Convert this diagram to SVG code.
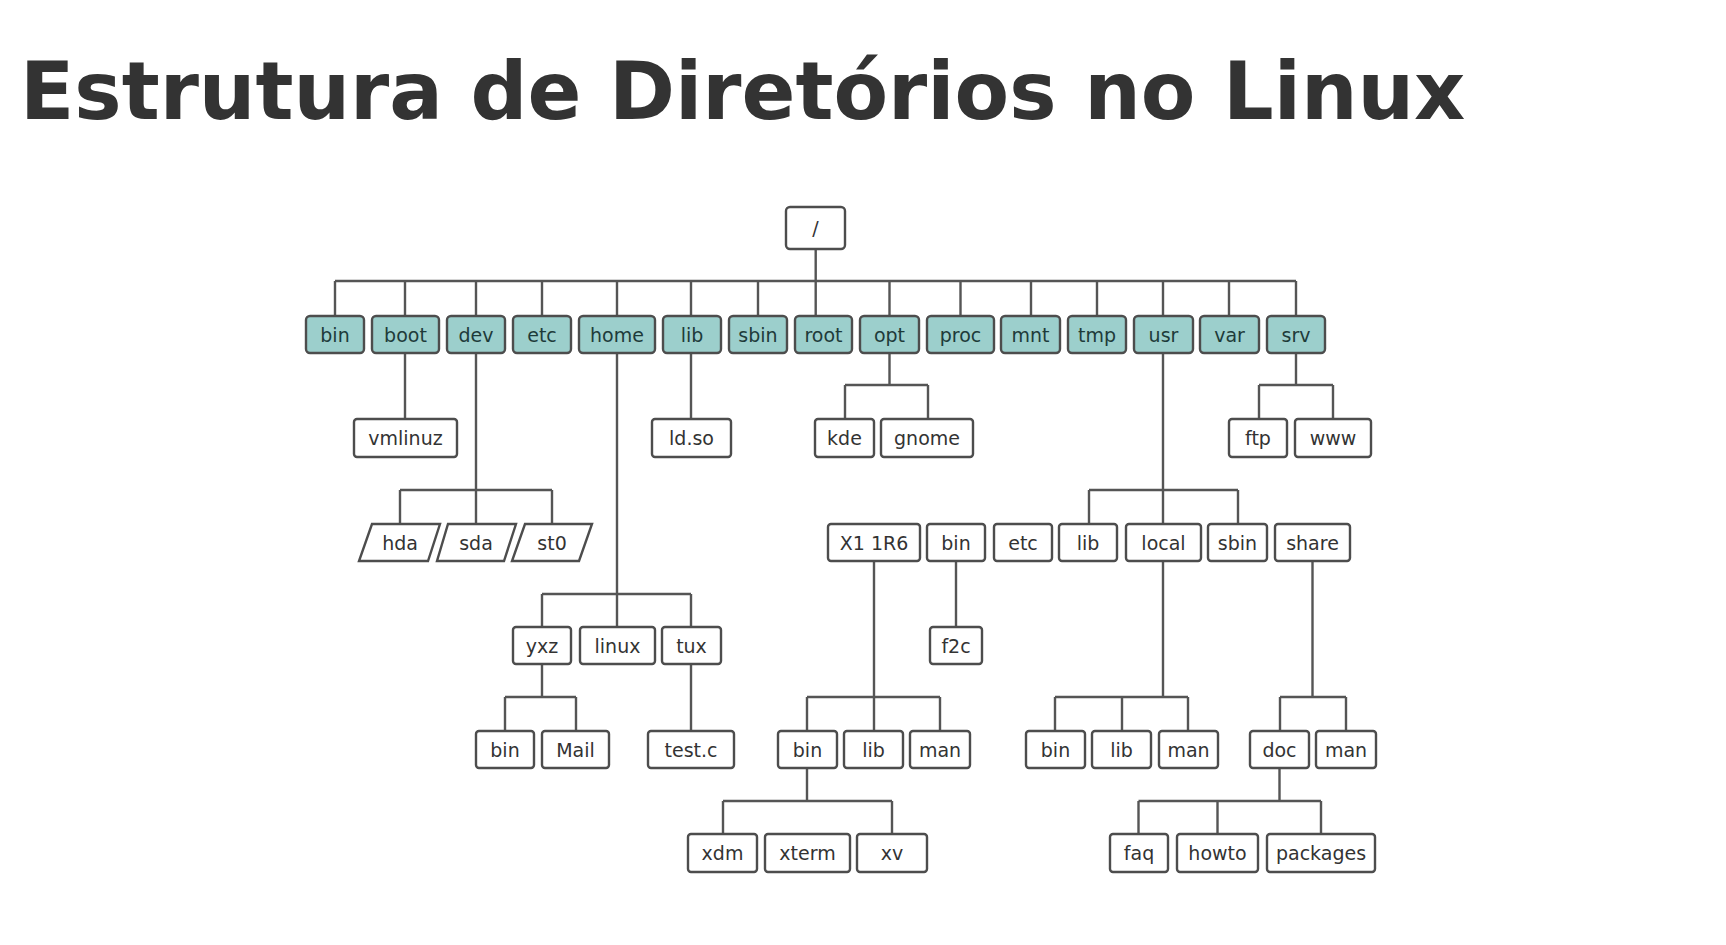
<svg xmlns="http://www.w3.org/2000/svg" width="1726" height="945" viewBox="0 0 1726 945">
<style>
.t{font-family:"DejaVu Sans","Liberation Sans",sans-serif;font-size:19px;text-anchor:middle;fill:#333}
.b{fill:#fff;stroke:#4d4d4d;stroke-width:2.4}
.c{fill:#9ccfcc;stroke:#4d4d4d;stroke-width:2.4}
.ct{font-family:"DejaVu Sans","Liberation Sans",sans-serif;font-size:19px;text-anchor:middle;fill:#1e3b3a}
.l{fill:none;stroke:#555;stroke-width:2.4}
</style>
<rect width="1726" height="945" fill="#fff"/>
<text x="20" y="119" font-family="DejaVu Sans, Liberation Sans, sans-serif" font-weight="bold" font-size="79.5" fill="#333">Estrutura de Diretórios no Linux</text>
<g id="connectors" class="l">
<path d="M815.7 249V316M335 281H1296M335 281V316M405 281V316M476 281V316M542 281V316M617 281V316M691 281V316M758 281V316M889.5 281V316M960.5 281V316M1031 281V316M1097 281V316M1163 281V316M1229 281V316M1296 281V316"/>
<path d="M405 353V419M691 353V419"/>
<path d="M476 353V524M400 490H552M400 490V524M552 490V524"/>
<path d="M617 353V627M542 594H691M542 594V627M691 594V627"/>
<path d="M889.5 353V385M845 385H928M845 385V419M928 385V419"/>
<path d="M1296 353V385M1259 385H1333M1259 385V419M1333 385V419"/>
<path d="M1163 353V524M1089 490H1238M1089 490V524M1238 490V524"/>
<path d="M874 561V731M807 697H940M807 697V731M940 697V731"/>
<path d="M956 561V627"/>
<path d="M542 664V697M505 697H576M505 697V731M576 697V731"/>
<path d="M691 664V731"/>
<path d="M1163 561V697M1055 697H1188M1055 697V731M1122 697V731M1188 697V731"/>
<path d="M1312.5 561V697M1280 697H1346M1280 697V731M1346 697V731"/>
<path d="M807 768V801M723 801H892M723 801V834M892 801V834"/>
<path d="M1279.5 768V801M1138.5 801H1321M1138.5 801V834M1217.5 801V834M1321 801V834"/>
</g>
<g id="n-root"><rect class="b" x="786" y="207" width="59" height="42" rx="4"/><text class="t" x="815.5" y="235">/</text></g>
<g id="n-bin"><rect class="c" x="306" y="316" width="58" height="37" rx="4"/><text class="ct" x="335" y="341.5">bin</text></g>
<g id="n-boot"><rect class="c" x="372" y="316" width="67" height="37" rx="4"/><text class="ct" x="405.5" y="341.5">boot</text></g>
<g id="n-dev"><rect class="c" x="447" y="316" width="58" height="37" rx="4"/><text class="ct" x="476" y="341.5">dev</text></g>
<g id="n-etc"><rect class="c" x="513" y="316" width="58" height="37" rx="4"/><text class="ct" x="542" y="341.5">etc</text></g>
<g id="n-home"><rect class="c" x="579" y="316" width="76" height="37" rx="4"/><text class="ct" x="617" y="341.5">home</text></g>
<g id="n-lib"><rect class="c" x="663" y="316" width="58" height="37" rx="4"/><text class="ct" x="692" y="341.5">lib</text></g>
<g id="n-sbin"><rect class="c" x="729" y="316" width="58" height="37" rx="4"/><text class="ct" x="758" y="341.5">sbin</text></g>
<g id="n-rootdir"><rect class="c" x="795" y="316" width="57" height="37" rx="4"/><text class="ct" x="823.5" y="341.5">root</text></g>
<g id="n-opt"><rect class="c" x="860" y="316" width="59" height="37" rx="4"/><text class="ct" x="889.5" y="341.5">opt</text></g>
<g id="n-proc"><rect class="c" x="927" y="316" width="67" height="37" rx="4"/><text class="ct" x="960.5" y="341.5">proc</text></g>
<g id="n-mnt"><rect class="c" x="1001" y="316" width="59" height="37" rx="4"/><text class="ct" x="1030.5" y="341.5">mnt</text></g>
<g id="n-tmp"><rect class="c" x="1068" y="316" width="58" height="37" rx="4"/><text class="ct" x="1097" y="341.5">tmp</text></g>
<g id="n-usr"><rect class="c" x="1134" y="316" width="59" height="37" rx="4"/><text class="ct" x="1163.5" y="341.5">usr</text></g>
<g id="n-var"><rect class="c" x="1200" y="316" width="59" height="37" rx="4"/><text class="ct" x="1229.5" y="341.5">var</text></g>
<g id="n-srv"><rect class="c" x="1267" y="316" width="58" height="37" rx="4"/><text class="ct" x="1296" y="341.5">srv</text></g>
<g id="n-vmlinuz"><rect class="b" x="354" y="419" width="103" height="38" rx="3"/><text class="t" x="405.5" y="445">vmlinuz</text></g>
<g id="n-ldso"><rect class="b" x="652" y="419" width="79" height="38" rx="3"/><text class="t" x="691.5" y="445">ld.so</text></g>
<g id="n-kde"><rect class="b" x="815" y="419" width="59" height="38" rx="3"/><text class="t" x="844.5" y="445">kde</text></g>
<g id="n-gnome"><rect class="b" x="881" y="419" width="92" height="38" rx="3"/><text class="t" x="927" y="445">gnome</text></g>
<g id="n-ftp"><rect class="b" x="1229" y="419" width="58" height="38" rx="3"/><text class="t" x="1258" y="445">ftp</text></g>
<g id="n-www"><rect class="b" x="1295" y="419" width="76" height="38" rx="3"/><text class="t" x="1333" y="445">www</text></g>
<g id="n-hda"><polygon class="b" points="372,524 440,524 428,561 359,561"/><text class="t" x="400" y="549.5">hda</text></g>
<g id="n-sda"><polygon class="b" points="448,524 516,524 504,561 437,561"/><text class="t" x="476" y="549.5">sda</text></g>
<g id="n-st0"><polygon class="b" points="525,524 592,524 579,561 512,561"/><text class="t" x="552" y="549.5">st0</text></g>
<g id="n-x11r6"><rect class="b" x="828" y="524" width="92" height="37" rx="3"/><text class="t" x="874" y="549.5">X1 1R6</text></g>
<g id="n-usr-bin"><rect class="b" x="927" y="524" width="58" height="37" rx="3"/><text class="t" x="956" y="549.5">bin</text></g>
<g id="n-usr-etc"><rect class="b" x="994" y="524" width="58" height="37" rx="3"/><text class="t" x="1023" y="549.5">etc</text></g>
<g id="n-usr-lib"><rect class="b" x="1059" y="524" width="58" height="37" rx="3"/><text class="t" x="1088" y="549.5">lib</text></g>
<g id="n-local"><rect class="b" x="1126" y="524" width="75" height="37" rx="3"/><text class="t" x="1163.5" y="549.5">local</text></g>
<g id="n-usr-sbin"><rect class="b" x="1208" y="524" width="59" height="37" rx="3"/><text class="t" x="1237.5" y="549.5">sbin</text></g>
<g id="n-share"><rect class="b" x="1275" y="524" width="75" height="37" rx="3"/><text class="t" x="1312.5" y="549.5">share</text></g>
<g id="n-yxz"><rect class="b" x="513" y="627" width="58" height="37" rx="3"/><text class="t" x="542" y="652.5">yxz</text></g>
<g id="n-linux"><rect class="b" x="580" y="627" width="75" height="37" rx="3"/><text class="t" x="617.5" y="652.5">linux</text></g>
<g id="n-tux"><rect class="b" x="662" y="627" width="59" height="37" rx="3"/><text class="t" x="691.5" y="652.5">tux</text></g>
<g id="n-f2c"><rect class="b" x="930" y="627" width="52" height="37" rx="3"/><text class="t" x="956" y="652.5">f2c</text></g>
<g id="n-yxz-bin"><rect class="b" x="476" y="731" width="58" height="37" rx="3"/><text class="t" x="505" y="756.5">bin</text></g>
<g id="n-mail"><rect class="b" x="542" y="731" width="67" height="37" rx="3"/><text class="t" x="575.5" y="756.5">Mail</text></g>
<g id="n-testc"><rect class="b" x="648" y="731" width="86" height="37" rx="3"/><text class="t" x="691" y="756.5">test.c</text></g>
<g id="n-x-bin"><rect class="b" x="778" y="731" width="59" height="37" rx="3"/><text class="t" x="807.5" y="756.5">bin</text></g>
<g id="n-x-lib"><rect class="b" x="844" y="731" width="59" height="37" rx="3"/><text class="t" x="873.5" y="756.5">lib</text></g>
<g id="n-x-man"><rect class="b" x="910" y="731" width="60" height="37" rx="3"/><text class="t" x="940" y="756.5">man</text></g>
<g id="n-l-bin"><rect class="b" x="1026" y="731" width="59" height="37" rx="3"/><text class="t" x="1055.5" y="756.5">bin</text></g>
<g id="n-l-lib"><rect class="b" x="1092" y="731" width="59" height="37" rx="3"/><text class="t" x="1121.5" y="756.5">lib</text></g>
<g id="n-l-man"><rect class="b" x="1159" y="731" width="59" height="37" rx="3"/><text class="t" x="1188.5" y="756.5">man</text></g>
<g id="n-doc"><rect class="b" x="1250" y="731" width="59" height="37" rx="3"/><text class="t" x="1279.5" y="756.5">doc</text></g>
<g id="n-s-man"><rect class="b" x="1316" y="731" width="60" height="37" rx="3"/><text class="t" x="1346" y="756.5">man</text></g>
<g id="n-xdm"><rect class="b" x="688" y="834" width="69" height="38" rx="3"/><text class="t" x="722.5" y="860">xdm</text></g>
<g id="n-xterm"><rect class="b" x="765" y="834" width="85" height="38" rx="3"/><text class="t" x="807.5" y="860">xterm</text></g>
<g id="n-xv"><rect class="b" x="857" y="834" width="70" height="38" rx="3"/><text class="t" x="892" y="860">xv</text></g>
<g id="n-faq"><rect class="b" x="1110" y="834" width="58" height="38" rx="3"/><text class="t" x="1139" y="860">faq</text></g>
<g id="n-howto"><rect class="b" x="1177" y="834" width="81" height="38" rx="3"/><text class="t" x="1217.5" y="860">howto</text></g>
<g id="n-packages"><rect class="b" x="1267" y="834" width="108" height="38" rx="3"/><text class="t" x="1321" y="860">packages</text></g>
</svg>
